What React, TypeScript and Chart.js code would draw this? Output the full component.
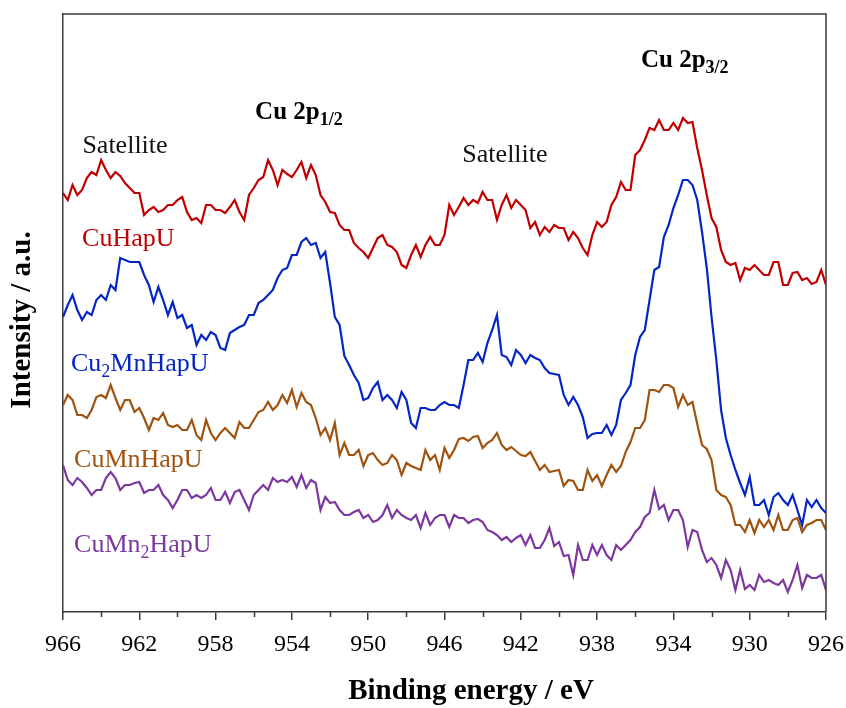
import React, { useEffect, useRef } from "react";
import { Chart, registerables } from "chart.js";

Chart.register(...registerables);

// Binding energy grid (eV), 0.25 eV step from 966 down to 926
const ENERGY: number[] = Array.from({ length: 161 }, (_, k) => 966 - 0.25 * k);

// Intensities (arbitrary units, offset traces)
const CU_HAPU = [
  419, 412, 427, 417, 422, 434, 440, 437, 452, 442,
  434, 440, 436, 429, 424, 419, 419, 397, 402, 405,
  400, 402, 407, 407, 412, 415, 400, 392, 394, 389,
  407, 407, 402, 402, 399, 405, 412, 400, 392, 417,
  424, 432, 435, 452, 442, 427, 442, 438, 435, 442,
  450, 434, 447, 437, 417, 410, 400, 399, 387, 382,
  382, 369, 364, 360, 354, 364, 374, 377, 367, 365,
  360, 347, 344, 357, 367, 355, 367, 375, 367, 367,
  377, 407, 397, 405, 414, 407, 412, 409, 420, 412,
  412, 392, 407, 417, 404, 412, 407, 402, 384, 390,
  377, 385, 380, 387, 384, 384, 372, 380, 374, 364,
  357, 377, 390, 385, 390, 407, 415, 430, 422, 422,
  457, 462, 472, 484, 482, 492, 482, 482, 489, 482,
  494, 489, 490, 464, 442, 417, 394, 385, 362, 350,
  347, 349, 332, 344, 342, 347, 342, 337, 337, 350,
  350, 327, 327, 339, 340, 332, 334, 328, 330, 342,
  327,
];
const CU2MN_HAPU = [
  295, 307, 317, 302, 292, 300, 297, 312, 317, 312,
  327, 322, 354, 352, 350, 350, 350, 337, 327, 310,
  325, 312, 297, 310, 294, 297, 284, 287, 267, 277,
  272, 280, 277, 264, 262, 279, 282, 285, 287, 297,
  297, 309, 312, 317, 322, 334, 342, 344, 357, 357,
  370, 374, 367, 369, 354, 360, 329, 295, 287, 256,
  247, 237, 229, 212, 214, 224, 230, 212, 217, 212,
  204, 220, 212, 189, 184, 204, 204, 202, 202, 207,
  210, 207, 207, 204, 227, 252, 252, 259, 250, 269,
  282, 297, 257, 255, 247, 262, 257, 249, 257, 254,
  252, 244, 239, 238, 237, 217, 207, 215, 207, 195,
  174, 178, 179, 179, 187, 177, 187, 212, 219, 227,
  257, 275, 282, 312, 342, 345, 375, 387, 404, 417,
  432, 432, 427, 412, 380, 344, 295, 252, 202, 174,
  157, 142, 129, 117, 135, 107, 107, 112, 97, 115,
  119, 112, 107, 117, 102, 87, 112, 105, 112, 104,
  99,
];
const CUMN_HAPU = [
  207, 217, 212, 197, 197, 194, 202, 215, 217, 214,
  227, 214, 202, 212, 212, 200, 204, 194, 182, 194,
  192, 199, 187, 185, 187, 182, 182, 192, 177, 172,
  192, 179, 172, 179, 184, 179, 174, 190, 184, 184,
  192, 200, 202, 210, 202, 207, 217, 209, 222, 205,
  219, 210, 207, 194, 177, 184, 172, 189, 157, 169,
  157, 157, 162, 146, 157, 159, 152, 147, 149, 157,
  152, 137, 149, 146, 144, 142, 162, 152, 157, 142,
  164, 154, 162, 173, 174, 171, 175, 176, 164, 169,
  172, 179, 167, 162, 165, 161, 157, 156, 160, 151,
  142, 147, 140, 141, 142, 126, 132, 131, 122, 122,
  142, 131, 137, 126, 137, 147, 140, 146, 160, 170,
  184, 184, 192, 222, 222, 220, 227, 227, 224, 205,
  217, 207, 210, 188, 167, 163, 152, 122, 117, 115,
  107, 87, 87, 80, 92, 79, 92, 85, 92, 82,
  97, 82, 82, 92, 94, 80, 87, 89, 92, 92,
  82,
];
const CUMN2_HAPU = [
  147, 132, 127, 134, 130, 124, 117, 122, 122, 134,
  140, 134, 122, 127, 127, 129, 130, 119, 122, 122,
  127, 117, 112, 104, 112, 122, 122, 114, 117, 114,
  117, 124, 112, 112, 120, 109, 120, 122, 112, 102,
  117, 122, 127, 122, 134, 130, 132, 130, 135, 125,
  137, 124, 132, 129, 102, 115, 109, 110, 102, 97,
  97, 100, 102, 94, 97, 90, 92, 97, 107, 94,
  102, 97, 94, 92, 97, 84, 99, 87, 94, 97,
  97, 85, 97, 94, 94, 89, 92, 93, 90, 82,
  80, 77, 72, 75, 70, 74, 77, 67, 77, 64,
  64, 72, 84, 66, 70, 56, 57, 37, 67, 52,
  52, 67, 57, 67, 57, 52, 67, 62, 67, 72,
  80, 85, 95, 99, 122, 103, 107, 92, 102, 102,
  92, 65, 82, 80, 62, 50, 54, 47, 34, 52,
  42, 22, 42, 23, 27, 22, 37, 30, 32, 29,
  27, 32, 20, 32, 47, 24, 37, 34, 34, 37,
  22,
];

const SERIES_NAMES = ["CuHapU", "Cu2MnHapU", "CuMnHapU", "CuMn2HapU"];
const COLORS = ["#c00000", "#0526c4", "#a0520f", "#7d38a0"];

const X_MIN = 926;
const X_MAX = 966;
const X_MAJOR_STEP = 4;
const X_MINOR_TICKS = [928, 932, 936, 940, 944, 948, 952, 956, 960, 964];
const Y_MIN = 0;
const Y_MAX = 598;

const SERIF = '"Liberation Serif", "Times New Roman", serif';
const AXIS_COLOR = "#3a3a3a";

type Run = { t: string; sub?: boolean };
type Note = { runs: Run[]; x: number; y: number; color: string; bold?: boolean; size: number; align: "left" | "center" };

// Annotation positions in data coordinates (eV, a.u.)
const NOTES: Note[] = [
  { runs: [{ t: "Satellite" }], x: 962.75, y: 459, color: "#111", size: 26, align: "center" },
  { runs: [{ t: "Satellite" }], x: 942.83, y: 450, color: "#111", size: 26, align: "center" },
  { runs: [{ t: "Cu 2p" }, { t: "1/2", sub: true }], x: 955.93, y: 493, color: "#000", bold: true, size: 25, align: "left" },
  { runs: [{ t: "Cu 2p" }, { t: "3/2", sub: true }], x: 935.7, y: 545, color: "#000", bold: true, size: 25, align: "left" },
  { runs: [{ t: "CuHapU" }], x: 965.0, y: 366, color: COLORS[0], size: 26, align: "left" },
  { runs: [{ t: "Cu" }, { t: "2", sub: true }, { t: "MnHapU" }], x: 965.58, y: 241, color: COLORS[1], size: 26, align: "left" },
  { runs: [{ t: "CuMnHapU" }], x: 965.42, y: 145, color: COLORS[2], size: 26, align: "left" },
  { runs: [{ t: "CuMn" }, { t: "2", sub: true }, { t: "HapU" }], x: 965.42, y: 60, color: COLORS[3], size: 26, align: "left" },
];

function drawRuns(ctx: CanvasRenderingContext2D, note: Note, px: number, py: number) {
  const weight = note.bold ? "bold " : "";
  const mainFont = `${weight}${note.size}px ${SERIF}`;
  const subFont = `${weight}${Math.round(note.size * 0.7)}px ${SERIF}`;
  let total = 0;
  for (const r of note.runs) {
    ctx.font = r.sub ? subFont : mainFont;
    total += ctx.measureText(r.t).width;
  }
  let cx = note.align === "center" ? px - total / 2 : px;
  ctx.fillStyle = note.color;
  ctx.textBaseline = "alphabetic";
  ctx.textAlign = "left";
  for (const r of note.runs) {
    ctx.font = r.sub ? subFont : mainFont;
    ctx.fillText(r.t, cx, r.sub ? py + note.size * 0.22 : py);
    cx += ctx.measureText(r.t).width;
  }
}

const decorPlugin = {
  id: "decor",
  afterDraw(chart: any) {
    const { ctx, chartArea: a, scales } = chart;
    const x = scales.x;
    const y = scales.y;
    ctx.save();
    ctx.strokeStyle = AXIS_COLOR;
    ctx.lineWidth = 1.5;
    ctx.beginPath();
    ctx.moveTo(a.left, a.top);
    ctx.lineTo(a.right, a.top);
    ctx.lineTo(a.right, a.bottom);
    ctx.stroke();
    ctx.beginPath();
    for (const v of X_MINOR_TICKS) {
      const px = Math.round(x.getPixelForValue(v)) + 0.5;
      ctx.moveTo(px, a.bottom);
      ctx.lineTo(px, a.bottom + 5);
    }
    ctx.stroke();

    for (const n of NOTES) {
      drawRuns(ctx, n, x.getPixelForValue(n.x), y.getPixelForValue(n.y));
    }

    // Axis titles
    ctx.fillStyle = "#000";
    ctx.font = `bold 29px ${SERIF}`;
    ctx.textAlign = "center";
    ctx.textBaseline = "alphabetic";
    ctx.fillText("Binding energy / eV", 471, 699);
    ctx.translate(23, 320);
    ctx.rotate(-Math.PI / 2);
    ctx.textBaseline = "middle";
    ctx.font = `bold 29px ${SERIF}`;
    ctx.fillText("Intensity / a.u.", 0, 0);
    ctx.restore();
  },
};

export default function App() {
  const canvasRef = useRef<HTMLCanvasElement | null>(null);

  useEffect(() => {
    document.body.style.margin = "0";
    const canvas = canvasRef.current;
    if (!canvas) return;
    const seriesData = [CU_HAPU, CU2MN_HAPU, CUMN_HAPU, CUMN2_HAPU];
    const chart = new Chart(canvas, {
      type: "line",
      data: {
        datasets: seriesData.map((vals, k) => ({
          label: SERIES_NAMES[k],
          data: vals.map((v, i) => ({ x: ENERGY[i], y: v })),
          borderColor: COLORS[k],
          backgroundColor: COLORS[k],
          borderWidth: 2.2,
          pointRadius: 0,
          tension: 0,
          fill: false,
        })),
      },
      options: {
        responsive: false,
        animation: false,
        devicePixelRatio: 1,
        layout: { padding: { top: 14, right: 20, left: 0, bottom: 0 } },
        plugins: { legend: { display: false }, tooltip: { enabled: false } },
        scales: {
          x: {
            type: "linear",
            reverse: true,
            min: X_MIN,
            max: X_MAX,
            afterFit: (s: any) => {
              s.height = 96;
              s.paddingLeft = 0;
              s.paddingRight = 0;
            },
            ticks: {
              stepSize: X_MAJOR_STEP,
              color: "#000",
              font: { family: SERIF, size: 24 },
              padding: 10,
              maxRotation: 0,
              autoSkip: false,
            },
            grid: { display: true, drawOnChartArea: false, drawTicks: true, tickLength: 8, color: AXIS_COLOR, lineWidth: 1.5 },
            border: { display: true, color: AXIS_COLOR, width: 1.5 },
          },
          y: {
            type: "linear",
            min: Y_MIN,
            max: Y_MAX,
            afterFit: (s: any) => { s.width = 63; },
            ticks: { display: false },
            grid: { display: false },
            border: { display: true, color: AXIS_COLOR, width: 1.5 },
          },
        },
      },
      plugins: [decorPlugin],
    });
    return () => chart.destroy();
  }, []);

  return (
    <div style={{ width: 846, height: 708, background: "#fff" }}>
      <canvas ref={canvasRef} width={846} height={708} />
    </div>
  );
}
